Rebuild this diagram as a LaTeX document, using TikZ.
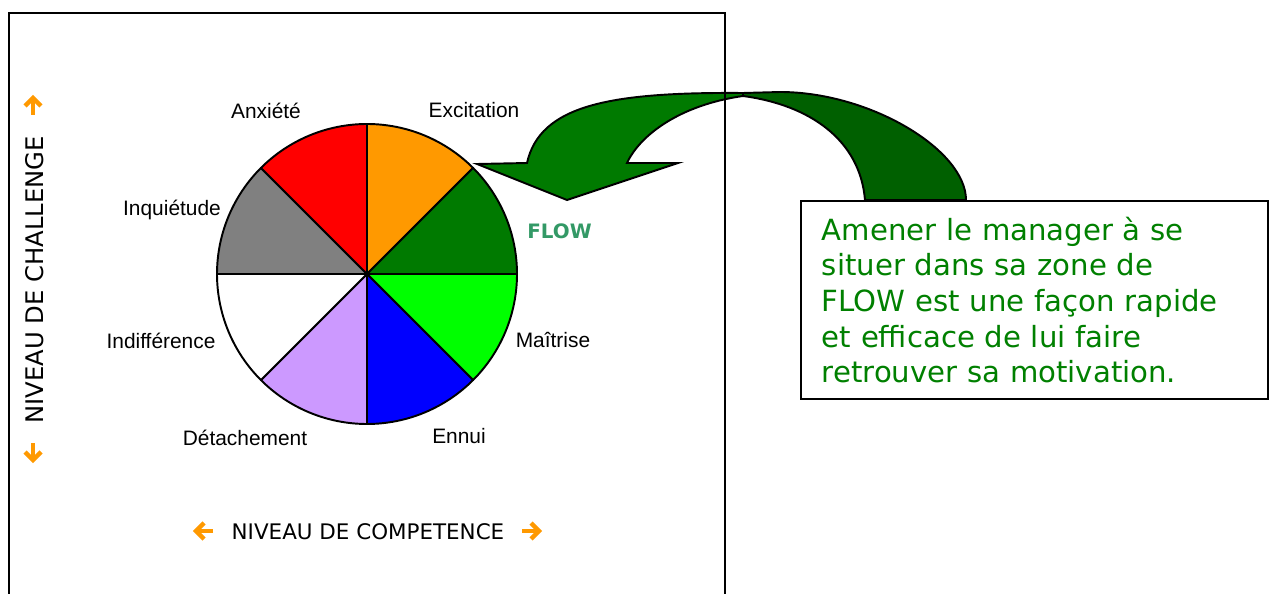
\documentclass[tikz,border=0pt]{standalone}
\usepackage{fontspec}
\setmainfont{Liberation Sans}
\newfontfamily\verdana{DejaVu Sans}
\usepackage{tikz}
\usetikzlibrary{calc, positioning}
\definecolor{pieorange}{RGB}{255,153,0}
\definecolor{piegreen}{RGB}{0,122,0}
\definecolor{pielime}{RGB}{0,255,0}
\definecolor{pieblue}{RGB}{0,0,255}
\definecolor{pielilac}{RGB}{204,153,255}
\definecolor{piegray}{RGB}{128,128,128}
\definecolor{piered}{RGB}{255,0,0}
\definecolor{arrdarkgreen}{RGB}{0,96,0}
\definecolor{flowtext}{RGB}{51,153,102}
\definecolor{notetext}{RGB}{0,128,0}
\tikzstyle{sector}=[draw=black, line width=1.1pt, line join=round]
\tikzstyle{lbl}=[inner sep=0pt, anchor=base, font=\fontsize{11.9}{14}\selectfont]
\tikzstyle{axislbl}=[inner sep=0pt, font=\verdana\fontsize{12.2}{14}\selectfont]
\tikzstyle{oarr}=[draw=pieorange, line width=2.6pt, line join=miter]
\tikzstyle{note}=[draw, line width=1.1pt, fill=white, inner xsep=0.42cm, text width=8.5cm, minimum height=3.96cm, align=left, text=notetext, font=\verdana\fontsize{16.6}{20.3}\selectfont]
\tikzset{>=stealth}

\begin{document}
\begin{tikzpicture}[x=0.02cm, y=-0.02cm]
\useasboundingbox (0,0) rectangle (1271,594);

\node[note, anchor=north west] (note) at (800,200) {Amener le manager à se\\situer dans sa zone de\\FLOW est une façon rapide\\et efficace de lui faire\\retrouver sa motivation.};

\coordinate (tip) at (567,200);
\coordinate (top) at (743,93);
\filldraw[fill=arrdarkgreen, line width=1.1pt, line join=round] (top) -- (780,92) .. controls (870,92) and (966,150) .. (966,200) -- (865,200) .. controls (860,140) and (810,105) .. (743,96) -- cycle;
\filldraw[fill=piegreen, line width=1.1pt, line join=miter] (top) .. controls (610,92) and (540,105) .. (527,163) -- (477,164) -- (tip) -- (678,163) -- (627,163) .. controls (640,135) and (680,105) .. (743,96) -- cycle;

\draw[line width=1.1pt] (9,600) -- (9,13) -- (725,13) -- (725,600);

\coordinate (C) at (367,274);
\filldraw[sector, fill=pieorange] (C) -- ++(-90:150) arc[start angle=-90, end angle=-45, radius=150] -- cycle;
\filldraw[sector, fill=piegreen] (C) -- ++(-45:150) arc[start angle=-45, end angle=0, radius=150] -- cycle;
\filldraw[sector, fill=pielime] (C) -- ++(0:150) arc[start angle=0, end angle=45, radius=150] -- cycle;
\filldraw[sector, fill=pieblue] (C) -- ++(45:150) arc[start angle=45, end angle=90, radius=150] -- cycle;
\filldraw[sector, fill=pielilac] (C) -- ++(90:150) arc[start angle=90, end angle=135, radius=150] -- cycle;
\filldraw[sector, fill=white] (C) -- ++(135:150) arc[start angle=135, end angle=180, radius=150] -- cycle;
\filldraw[sector, fill=piegray] (C) -- ++(180:150) arc[start angle=180, end angle=225, radius=150] -- cycle;
\filldraw[sector, fill=piered] (C) -- ++(225:150) arc[start angle=225, end angle=270, radius=150] -- cycle;

\node[lbl] (anx) at (266,119) {Anxiété};
\node[lbl] (exc) at (474,117.5) {Excitation};
\node[lbl] (inq) at (172,215.5) {Inquiétude};
\node[lbl, text=flowtext, font=\verdana\bfseries\fontsize{11.3}{13}\selectfont] (flow) at (559.5,238.3) {FLOW};
\node[lbl] (ind) at (161,349) {Indifférence};
\node[lbl] (mai) at (553,347.5) {Maîtrise};
\node[lbl] (det) at (245,445) {Détachement};
\node[lbl] (enn) at (459,443.5) {Ennui};

\node[axislbl] (comp) at (368,531.7) {NIVEAU DE COMPETENCE};
\node[axislbl, rotate=90, font=\verdana\fontsize{13.8}{16}\selectfont] (chal) at (35,280) {NIVEAU DE CHALLENGE};

\draw[oarr] (213,531) -- (197,531);
\draw[oarr] (204,523) -- (196,531) -- (204,539);
\draw[oarr] (522,531) -- (538,531);
\draw[oarr] (531,523) -- (539,531) -- (531,539);
\draw[oarr] (33,115) -- (33,99);
\draw[oarr] (25,106) -- (33,98) -- (41,106);
\draw[oarr] (33,443) -- (33,459);
\draw[oarr] (25,452) -- (33,460) -- (41,452);
\end{tikzpicture}
\end{document}
